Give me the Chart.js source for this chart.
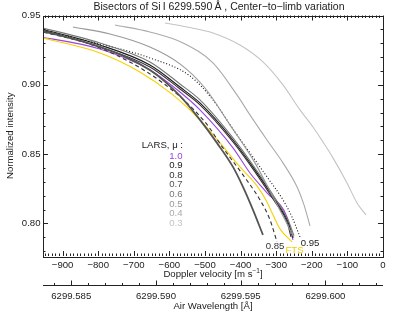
<!DOCTYPE html>
<html>
<head>
<meta charset="utf-8">
<script src="https://cdn.jsdelivr.net/npm/chart.js@4.4.1/dist/chart.umd.min.js"></script>
<style>
  html, body { margin: 0; padding: 0; background: #fff; }
  #wrap { width: 399px; height: 313px; }
</style>
</head>
<body>
<div id="wrap"><canvas id="chart" width="399" height="313"></canvas></div>
<script>
// Bisector curves: Doppler velocity [m/s] vs normalized intensity
const V_MU10 = [-991.8, -795.1, -654.6, -570.3, -514.1, -421.4, -373.7, -325.9, -269.7, -252.9];
const I_MU10 = [0.9359, 0.9258, 0.9107, 0.8948, 0.8819, 0.8545, 0.8364, 0.8220, 0.8047, 0.7881];

const V_MU09 = [-991.8, -795.1, -654.6, -570.3, -514.1, -421.4, -359.6, -303.4, -266.9, -252.9];
const I_MU09 = [0.9424, 0.9287, 0.9143, 0.8984, 0.8869, 0.8602, 0.8386, 0.8170, 0.8011, 0.7896];

const V_MU08 = [-991.8, -795.1, -654.6, -570.3, -514.1, -421.4, -359.6, -303.4, -269.7, -258.5];
const I_MU08 = [0.9417, 0.9273, 0.9129, 0.8970, 0.8855, 0.8588, 0.8372, 0.8155, 0.8011, 0.7903];

const V_MU07 = [-991.8, -795.1, -654.6, -570.3, -514.1, -466.4, -421.4, -393.3, -365.2, -337.2];
const I_MU07 = [0.9410, 0.9273, 0.9107, 0.8920, 0.8747, 0.8581, 0.8408, 0.8264, 0.8098, 0.7917];

const V_MU06 = [-991.8, -795.1, -654.6, -570.3, -514.1, -421.4, -359.6, -303.4, -266.9, -250.1];
const I_MU06 = [0.9432, 0.9302, 0.9165, 0.9006, 0.8891, 0.8617, 0.8400, 0.8184, 0.8026, 0.7911];

const V_MU05 = [-871.0, -767.0, -654.6, -570.3, -500.1, -429.9, -359.6, -311.9, -275.4, -250.1];
const I_MU05 = [0.9417, 0.9367, 0.9273, 0.9151, 0.8977, 0.8711, 0.8437, 0.8206, 0.8026, 0.7896];

const V_MU04 = [-753.0, -654.6, -561.9, -477.6, -410.2, -373.7, -325.9, -281.0, -241.6, -221.9, -205.1];
const I_MU04 = [0.9432, 0.9381, 0.9302, 0.9158, 0.8927, 0.8783, 0.8602, 0.8437, 0.8264, 0.8134, 0.7982];

const V_MU03 = [-612.5, -550.7, -477.6, -401.8, -337.2, -281.0, -233.2, -196.7, -168.6, -140.5, -101.1, -73.0, -47.8];
const I_MU03 = [0.9446, 0.9417, 0.9374, 0.9287, 0.9165, 0.8999, 0.8819, 0.8696, 0.8588, 0.8473, 0.8292, 0.8148, 0.8062];

const V_MU085 = [-991.8, -795.1, -618.1, -500.1, -449.5, -393.3, -345.6, -317.5, -297.8];
const I_MU085 = [0.9403, 0.9266, 0.9013, 0.8732, 0.8545, 0.8350, 0.8170, 0.8026, 0.7867];

const V_MU095 = [-991.8, -795.1, -654.6, -542.3, -477.6, -415.8, -373.7, -325.9, -281.0, -255.7, -233.2];
const I_MU095 = [0.9410, 0.9295, 0.9194, 0.9064, 0.8891, 0.8660, 0.8509, 0.8336, 0.8170, 0.8047, 0.7903];

const V_FTS = [-991.8, -795.1, -682.7, -590.0, -514.1, -458.0, -401.8, -354.0, -325.9, -309.1, -289.4, -255.7];
const I_FTS = [0.9359, 0.9230, 0.9093, 0.8927, 0.8747, 0.8581, 0.8408, 0.8271, 0.8155, 0.8062, 0.7961, 0.7867];

// legend
const MU_LABELS = ["1.0", "0.9", "0.8", "0.7", "0.6", "0.5", "0.4", "0.3"];
const MU_COLORS = ["#9b44dd", "#1a1a1a", "#333333", "#555555", "#777777", "#999999", "#aaaaaa", "#c4c4c4"];

// axes
const X_MIN = -955, X_MAX = 0;
const Y_MIN = 0.7765, Y_MAX = 0.95;
const X_TICKS = [-900, -800, -700, -600, -500, -400, -300, -200, -100, 0];
const Y_TICKS = [0.80, 0.85, 0.90, 0.95];
const WL_TICKS = [6299.585, 6299.590, 6299.595, 6299.600];
const WL_LABELS = ["6299.585", "6299.590", "6299.595", "6299.600"];
const WL_ZERO = 6299.6034; // wavelength at v = 0
const C_LIGHT = 299792458;

const FONT = '"Liberation Sans", Arial, sans-serif';

function pts(vs, is) {
  return vs.map((v, k) => ({ x: v, y: is[k] }));
}

function line(label, vs, is, color, extra) {
  return Object.assign({
    label,
    data: pts(vs, is),
    borderColor: color,
    borderWidth: 1.1,
    pointRadius: 0,
    cubicInterpolationMode: "monotone",
    fill: false
  }, extra || {});
}

const datasets = [
  line("0.3", V_MU03, I_MU03, MU_COLORS[7]),
  line("0.4", V_MU04, I_MU04, MU_COLORS[6]),
  line("0.5", V_MU05, I_MU05, MU_COLORS[5]),
  line("0.6", V_MU06, I_MU06, MU_COLORS[4]),
  line("0.7", V_MU07, I_MU07, MU_COLORS[3], { borderWidth: 1.8 }),
  line("0.8", V_MU08, I_MU08, MU_COLORS[2]),
  line("0.85", V_MU085, I_MU085, "#333333", { borderDash: [4, 3] }),
  line("0.95", V_MU095, I_MU095, "#111111", { borderDash: [1, 2] }),
  line("0.9", V_MU09, I_MU09, MU_COLORS[1]),
  line("FTS", V_FTS, I_FTS, "#f7d000"),
  line("1.0", V_MU10, I_MU10, MU_COLORS[0])
];

function wlToV(wl) {
  return (wl - WL_ZERO) / WL_ZERO * C_LIGHT;
}

const axesPlugin = {
  id: "idlAxes",
  afterDraw(chart) {
    const ctx = chart.ctx;
    const { left, right, top, bottom } = chart.chartArea;
    const xs = chart.scales.x, ys = chart.scales.y;
    ctx.save();
    ctx.strokeStyle = "#222";
    ctx.lineWidth = 1;
    ctx.strokeRect(Math.round(left) + 0.5, Math.round(top) + 0.5, Math.round(right - left), Math.round(bottom - top));

    ctx.beginPath();
    // x ticks (bottom + top), minor every 10
    for (let v = -950; v <= 0; v += 10) {
      const px = Math.round(xs.getPixelForValue(v)) + 0.5;
      if (px < left || px > right + 1) continue;
      const len = v % 100 === 0 ? 5 : 2.5;
      ctx.moveTo(px, bottom); ctx.lineTo(px, bottom - len);
      ctx.moveTo(px, top); ctx.lineTo(px, top + len);
    }
    // y ticks (left + right), minor every 0.01
    for (let k = 78; k <= 95; k++) {
      const val = k / 100;
      const py = Math.round(ys.getPixelForValue(val)) + 0.5;
      const len = k % 5 === 0 ? 5 : 2.5;
      ctx.moveTo(left, py); ctx.lineTo(left + len, py);
      ctx.moveTo(right, py); ctx.lineTo(right - len, py);
    }
    ctx.stroke();

    // secondary wavelength axis
    const yAx = 285.5;
    ctx.beginPath();
    ctx.moveTo(left, yAx); ctx.lineTo(right, yAx);
    for (let k = 6299584; k <= 6299603; k++) {
      const wl = k / 1000;
      const px = Math.round(xs.getPixelForValue(wlToV(wl))) + 0.5;
      if (px < left || px > right) continue;
      const len = k % 5 === 0 ? 5 : 2.5;
      ctx.moveTo(px, yAx); ctx.lineTo(px, yAx - len);
    }
    ctx.stroke();

    ctx.fillStyle = "#222";
    ctx.font = "9.6px " + FONT;
    ctx.textBaseline = "middle";
    ctx.textAlign = "center";
    X_TICKS.forEach(v => {
      const txt = v < 0 ? "\u2212" + Math.abs(v) : String(v);
      ctx.fillText(txt, xs.getPixelForValue(v), 265.5);
    });
    WL_TICKS.forEach((wl, k) => {
      ctx.fillText(WL_LABELS[k], xs.getPixelForValue(wlToV(wl)), 296);
    });
    ctx.textAlign = "right";
    Y_TICKS.forEach(val => {
      ctx.fillText(val.toFixed(2), 40.5, ys.getPixelForValue(val));
    });

    // axis titles
    ctx.textAlign = "center";
    const xt = "Doppler velocity [m s";
    const cx = (left + right) / 2;
    const w1 = ctx.measureText(xt).width;
    ctx.font = "6.5px " + FONT;
    const wSup = ctx.measureText("\u22121").width;
    ctx.font = "9.6px " + FONT;
    const w2 = ctx.measureText("]").width;
    const x0 = cx - (w1 + wSup + w2) / 2;
    ctx.textAlign = "left";
    ctx.fillText(xt, x0, 274);
    ctx.font = "6.5px " + FONT;
    ctx.fillText("\u22121", x0 + w1, 271);
    ctx.font = "9.6px " + FONT;
    ctx.fillText("]", x0 + w1 + wSup, 274);

    ctx.textAlign = "center";
    ctx.fillText("Air Wavelength [\u00c5]", cx, 306.5);

    ctx.save();
    ctx.translate(10, (top + bottom) / 2);
    ctx.rotate(-Math.PI / 2);
    ctx.fillText("Normalized intensity", 0, 0);
    ctx.restore();

    // title
    ctx.font = "10.5px " + FONT;
    ctx.fillText("Bisectors of Si\u2009I 6299.590\u2009\u00c5 , Center\u2212to\u2212limb variation", 219, 7.5);

    // legend
    ctx.font = "9.6px " + FONT;
    ctx.textAlign = "right";
    ctx.fillText("LARS, \u03bc :", 183, 145);
    MU_LABELS.forEach((lab, k) => {
      ctx.fillStyle = MU_COLORS[k];
      ctx.fillText(lab, 182.5, 156 + k * 9.6);
    });

    // curve end labels
    ctx.textAlign = "center";
    ctx.fillStyle = "#333";
    ctx.fillText("0.85", 275, 246.5);
    ctx.fillStyle = "#f2cf00";
    ctx.fillText("FTS", 294.5, 250);
    ctx.fillStyle = "#222";
    ctx.fillText("0.95", 310, 243);
    ctx.restore();
  }
};

new Chart(document.getElementById("chart"), {
  type: "line",
  data: { datasets },
  options: {
    responsive: false,
    animation: false,
    parsing: false,
    layout: { padding: { left: 43, right: 16, top: 15.5, bottom: 57 } },
    plugins: { legend: { display: false }, tooltip: { enabled: false } },
    scales: {
      x: { type: "linear", min: X_MIN, max: X_MAX, display: false },
      y: { type: "linear", min: Y_MIN, max: Y_MAX, display: false }
    }
  },
  plugins: [axesPlugin]
});
</script>
</body>
</html>
